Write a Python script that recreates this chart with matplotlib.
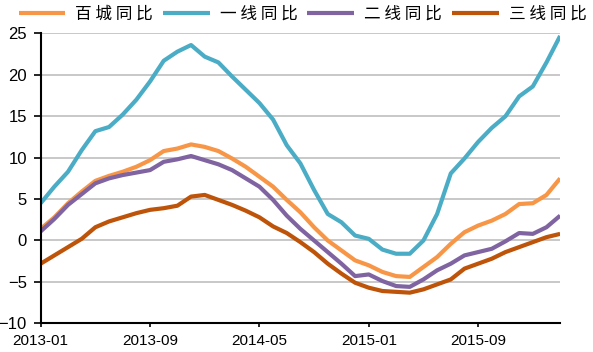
"""City house price YoY comparison: 100-city vs tier 1/2/3, 2013-01 to 2016-03."""

import matplotlib
import matplotlib.pyplot as plt

matplotlib.use("Agg")
matplotlib.rcParams["font.family"] = ["Liberation Sans Narrow", "Liberation Sans", "DejaVu Sans"]

# monthly data, 2013-01 .. 2016-03
months = [f"{y}-{m:02d}" for y in (2013, 2014, 2015, 2016) for m in range(1, 13)][:39]

city100 = [1.4, 2.8, 4.5, 5.9, 7.2, 7.8, 8.3, 8.9, 9.7, 10.8,
           11.1, 11.6, 11.3, 10.8, 9.9, 8.9, 7.7, 6.5, 4.9, 3.4,
           1.6, 0.0, -1.2, -2.4, -3.0, -3.8, -4.3, -4.4, -3.2, -2.0,
           -0.4, 1.0, 1.8, 2.4, 3.2, 4.4, 4.5, 5.5, 7.5]
tier1 = [4.5, 6.5, 8.3, 10.9, 13.2, 13.7, 15.2, 17.0, 19.2, 21.7,
         22.8, 23.6, 22.2, 21.5, 19.8, 18.2, 16.6, 14.6, 11.5, 9.3,
         6.1, 3.2, 2.2, 0.6, 0.2, -1.1, -1.6, -1.6, 0.0, 3.2,
         8.1, 9.9, 11.9, 13.6, 15.0, 17.4, 18.6, 21.5, 24.7]
tier2 = [1.1, 2.6, 4.3, 5.6, 6.9, 7.5, 7.9, 8.2, 8.5, 9.5,
         9.8, 10.2, 9.7, 9.2, 8.5, 7.5, 6.5, 4.9, 3.0, 1.4,
         0.0, -1.4, -2.8, -4.3, -4.1, -4.9, -5.5, -5.6, -4.7, -3.6,
         -2.8, -1.8, -1.4, -1.0, -0.1, 0.9, 0.8, 1.6, 3.0]
tier3 = [-2.8, -1.8, -0.8, 0.2, 1.6, 2.3, 2.8, 3.3, 3.7, 3.9,
         4.2, 5.3, 5.5, 4.9, 4.3, 3.6, 2.8, 1.7, 0.9, -0.2,
         -1.4, -2.8, -4.0, -5.1, -5.7, -6.1, -6.2, -6.3, -5.9, -5.3,
         -4.7, -3.4, -2.8, -2.2, -1.4, -0.8, -0.2, 0.4, 0.8]

labels = ["百 城 同 比", "一 线 同 比", "二 线 同 比", "三 线 同 比"]
colors = ["#F79646", "#4BACC6", "#8064A2", "#BE5409"]

fig = plt.figure(figsize=(5.93, 3.52), dpi=100)
ax = fig.add_axes([0.0686, 0.0815, 0.876, 0.8235])

x = list(range(len(months)))
for series, label, color in zip([city100, tier1, tier2, tier3], labels, colors):
    ax.plot(x, series, color=color, linewidth=3, label=label, solid_capstyle="butt")

ax.set_xlim(0, 38)
ax.set_ylim(-10, 25)
ax.set_yticks(range(-10, 26, 5))
tick_idx = [0, 8, 16, 24, 32]
ax.set_xticks(tick_idx)
ax.set_xticklabels([months[i] for i in tick_idx])
ax.tick_params(axis="y", direction="out", length=5, width=1.2, labelsize=12, pad=5)
ax.tick_params(axis="x", direction="out", length=3, width=1.2, labelsize=11, pad=5)

ax.grid(axis="y", color="#BFBFBF", linewidth=1.2)
ax.set_axisbelow(True)
ax.spines["top"].set_visible(False)
ax.spines["right"].set_visible(False)
ax.spines["left"].set_linewidth(1.5)
ax.spines["bottom"].set_linewidth(1.5)

ax.legend(loc="center", bbox_to_anchor=(0.51, 0.96), bbox_transform=fig.transFigure,
          ncol=4, frameon=False, handlelength=2.8, handletextpad=0.6,
          columnspacing=0.6, borderaxespad=0,
          prop={"family": ["Noto Sans CJK SC", "DejaVu Sans"], "size": 12})

fig.savefig("out.png", dpi=100)
